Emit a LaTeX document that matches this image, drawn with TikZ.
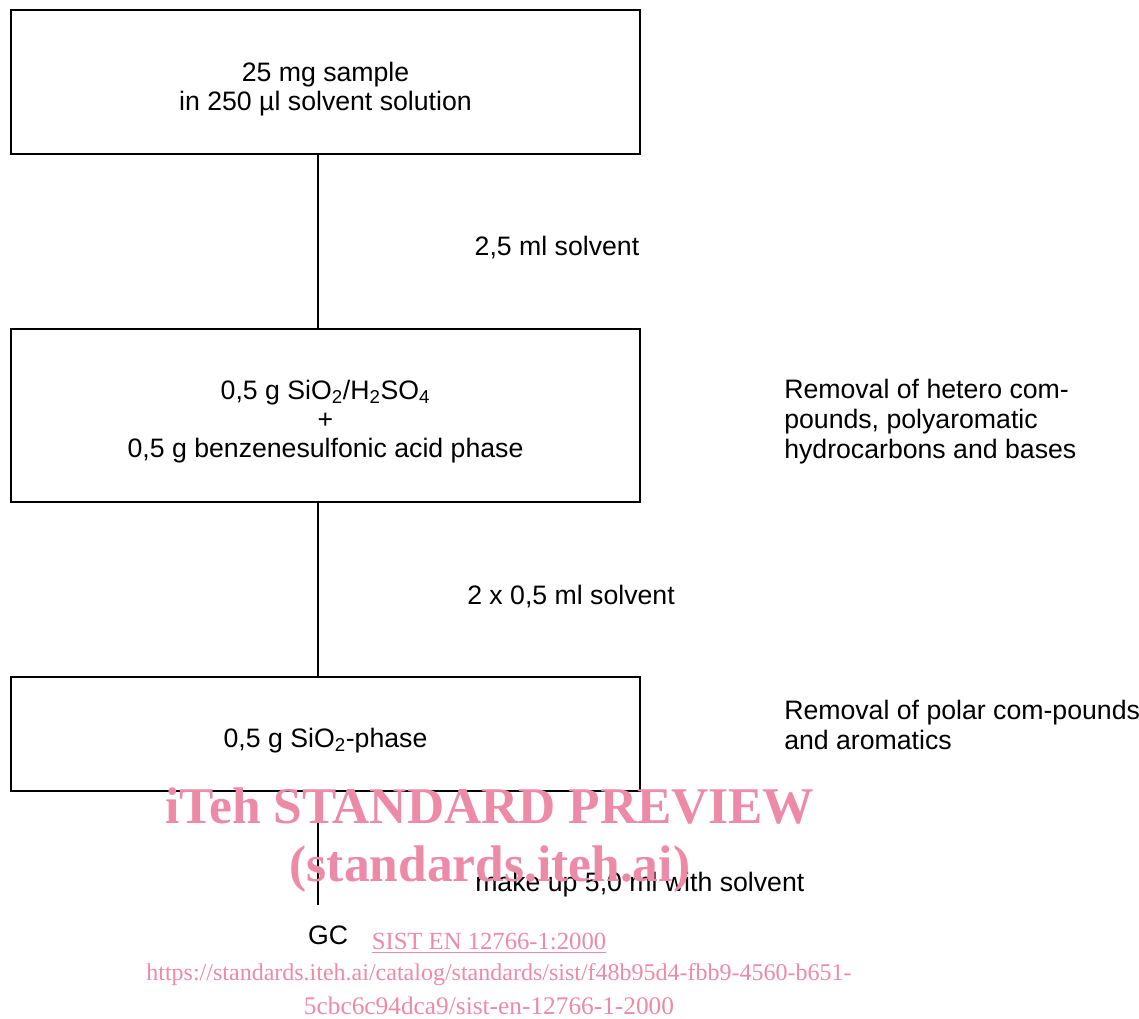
\documentclass[tikz,border=0pt]{standalone}
\usepackage{fontspec}
\setmainfont{Liberation Sans}
\newfontfamily\wmfont{Liberation Serif}
\definecolor{wmpink}{RGB}{236,138,168}
\begin{document}
\begin{tikzpicture}[x=0.75pt,y=-0.75pt,
  stage/.style={draw,line width=1.4pt,inner sep=0pt,outer sep=0pt},
  boxtext/.style={inner sep=0pt,align=center,font=\fontsize{20}{21.5}\selectfont},
  lbl/.style={inner sep=0pt,font=\fontsize{20}{22}\selectfont},
  note/.style={inner sep=0pt,align=left,anchor=west,font=\fontsize{20}{22.5}\selectfont},
  conn/.style={line width=1.4pt},
  wm/.style={text=wmpink,inner sep=0pt,font=\wmfont}]
\useasboundingbox (0,0) rectangle (1139,1019);
\coordinate (lx) at (318,0);
\node[stage,minimum width=471.75pt,minimum height=108pt] (b1) at (325.5,82) {};
\node[boxtext] (t1) at ([yshift=-5.5pt]b1.center) {25 mg sample\\in 250 µl solvent solution};
\node[stage,minimum width=471.75pt,minimum height=129.75pt] (b2) at (325.5,415.5) {};
\node[boxtext,font=\fontsize{20}{22}\selectfont] (t2) at ([yshift=-4.5pt]b2.center)
  {0,5 g SiO\textsubscript{2}/H\textsubscript{2}SO\textsubscript{4}\\+\\0,5 g benzenesulfonic acid phase};
\node[stage,minimum width=471.75pt,minimum height=85.5pt] (b3) at (325.5,734) {};
\node[boxtext] (t3) at ([yshift=-5pt]b3.center) {0,5 g SiO\textsubscript{2}-phase};
\node[lbl] (gc) at (328,935) {GC};
\coordinate (gcend) at (318,905);
\draw[conn] (b1.south -| lx) -- (b2.north -| lx);
\draw[conn] (b2.south -| lx) -- (b3.north -| lx);
\draw[conn] (b3.south -| lx) -- (gcend);
\node[lbl] (l1) at (557,248) {2,5 ml solvent};
\node[lbl] (l2) at (571,597) {2 x 0,5 ml solvent};
\node[lbl,anchor=west] (l3) at (475,885) {make up 5,0 ml with solvent};
\node[note] (n1) at (784,422) {Removal of hetero com-\\pounds, polyaromatic\\hydrocarbons and bases};
\node[note] (n2) at (784,725) {Removal of polar com-pounds\\and aromatics};
% watermark
\node[wm,font=\wmfont\bfseries\fontsize{38.6}{40}\selectfont] (w1) at (490,806) {iTeh STANDARD PREVIEW};
\node[wm,font=\wmfont\bfseries\fontsize{38.6}{40}\selectfont] (w2) at (490,869) {(standards.iteh.ai)};
\node[wm,font=\wmfont\fontsize{18.5}{20}\selectfont] (w3) at (489,943) {\underline{SIST EN 12766-1:2000}};
\node[wm,font=\wmfont\fontsize{18}{20}\selectfont] (w4) at (499,975) {https://standards.iteh.ai/catalog/standards/sist/f48b95d4-fbb9-4560-b651-};
\node[wm,font=\wmfont\fontsize{19}{20}\selectfont] (w5) at (489,1006) {5cbc6c94dca9/sist-en-12766-1-2000};
\end{tikzpicture}
\end{document}
